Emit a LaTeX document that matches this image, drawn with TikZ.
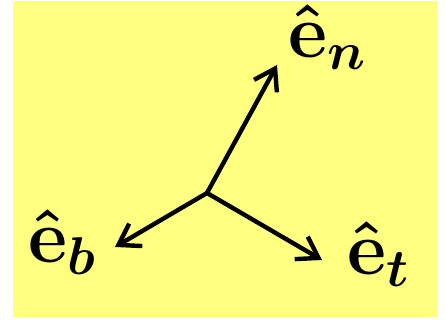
\RequirePackage{fix-cm}
\documentclass[tikz,border=0pt]{standalone}
\usepackage{amsmath}
\usepackage{bm}
\usepackage{xcolor}
\usetikzlibrary{arrows.meta,positioning}
\definecolor{bgyellow}{RGB}{255,255,128}

\begin{document}
\begin{tikzpicture}[x=0.5pt, y=-0.5pt]
\tikzstyle{vec} = [draw, line width=2.2pt, -{Straight Barb[length=10pt,width=13pt,line width=2.2pt]}]
\tikzstyle{lbl} = [anchor=base west, inner sep=0pt, font=\fontsize{38}{44}\selectfont]

\useasboundingbox (0,0) rectangle (445,320);
\fill [bgyellow] (13,1) rectangle (437,317);

\coordinate (origin) at (207,193);
\coordinate (tipn) at (277,65);
\coordinate (tipb) at (115,247);
\coordinate (tipt) at (322,260);

\node [lbl] (en) at (288,58) {$\bm{\hat{\mathbf{e}}}_{\bm{n}}$};
\node [lbl] (eb) at (28,263) {$\bm{\hat{\mathbf{e}}}_{\bm{b}}$};
\node [lbl] (et) at (347,275) {$\bm{\hat{\mathbf{e}}}_{\bm{t}}$};

\path [vec] (origin) -- (tipn);
\path [vec] (origin) -- (tipb);
\path [vec] (origin) -- (tipt);

\end{tikzpicture}
\end{document}
